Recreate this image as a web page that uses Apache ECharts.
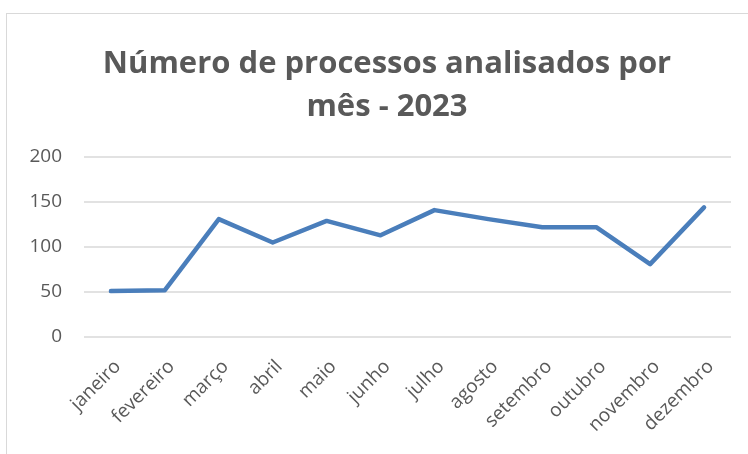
<!DOCTYPE html>
<html lang="pt">

<head>
    <meta charset="UTF-8">
    <title>Número de processos analisados por mês - 2023</title>
    <script src="https://cdn.jsdelivr.net/npm/echarts@6/dist/echarts.min.js"></script>
</head>

<style>
    html, body {
        margin: 0;
        padding: 0;
        background: #fff;
        overflow: hidden;
    }

    #frame {
        position: absolute;
        left: 6px;
        top: 13px;
        width: 780px;
        height: 480px;
        border: 1px solid #d9d9d9;
    }

    #lineChart {
        position: absolute;
        left: 0;
        top: 0;
        width: 748px;
        height: 454px;
    }
</style>

<body>
    <div id="frame"></div>
    <div id="lineChart"></div>
</body>

<script>
    let months = ['janeiro', 'fevereiro', 'março', 'abril', 'maio', 'junho',
        'julho', 'agosto', 'setembro', 'outubro', 'novembro', 'dezembro'];
    let processos = [51, 52, 131, 105, 129, 113, 141, 131, 122, 122, 81, 144];
    let yTicks = [0, 50, 100, 150, 200];

    let grey = '#595959';
    let myChart = echarts.init(document.getElementById('lineChart'));

    let option = {
        animation: false,
        title: {
            text: 'Número de processos analisados por\nmês - 2023',
            left: 382,
            top: 38,
            textAlign: 'center',
            textStyle: {
                color: grey,
                fontFamily: 'Open Sans',
                fontWeight: 'bold',
                fontSize: 31,
                lineHeight: 43
            }
        },
        grid: {
            left: 84,
            right: 17,
            top: 157,
            bottom: 117
        },
        xAxis: {
            type: 'category',
            data: months,
            boundaryGap: true,
            axisLine: { show: false },
            axisTick: { show: false },
            axisLabel: {
                rotate: 45,
                margin: 20,
                interval: 0,
                verticalAlign: 'top',
                color: grey,
                fontSize: 19,
                fontFamily: 'Open Sans'
            }
        },
        yAxis: {
            type: 'value',
            min: yTicks[0],
            max: yTicks[yTicks.length - 1],
            interval: 50,
            axisLine: { show: false },
            axisTick: { show: false },
            axisLabel: {
                margin: 22,
                color: grey,
                fontSize: 19,
                fontFamily: 'Open Sans'
            },
            splitLine: {
                lineStyle: { color: '#d9d9d9', width: 1.5 }
            }
        },
        series: [{
            type: 'line',
            data: processos,
            symbol: 'none',
            lineStyle: {
                color: '#4a7ebb',
                width: 4.5,
                cap: 'round',
                join: 'round'
            }
        }]
    };

    myChart.setOption(option);
</script>

</html>
